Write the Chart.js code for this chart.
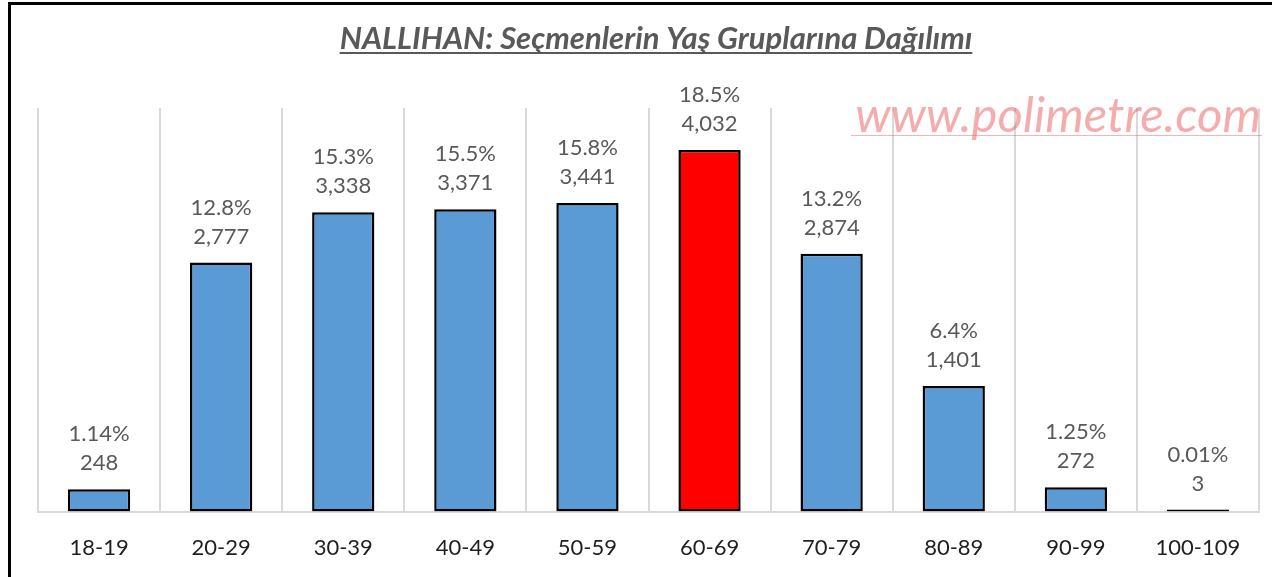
<!DOCTYPE html>
<html>
<head>
<meta charset="utf-8">
<script src="https://cdn.jsdelivr.net/npm/chart.js@4.4.0/dist/chart.umd.min.js"></script>
<style>
    html, body { margin: 0; padding: 0; background: #fff; overflow: hidden; }
    #wrap { position: relative; width: 1272px; height: 577px; overflow: hidden; }
    #frame {
        position: absolute; left: 8px; top: 2px; width: 1300px; height: 620px;
        border: 3px solid #000; box-sizing: border-box; pointer-events: none;
    }
</style>
</head>
<body>
<div id="wrap">
    <canvas id="chart" width="1272" height="604"></canvas>
    <div id="frame"></div>
</div>
<script>
//! Data
const ageGroups = ["18-19", "20-29", "30-39", "40-49", "50-59", "60-69", "70-79", "80-89", "90-99", "100-109"];
const voters = [248, 2777, 3338, 3371, 3441, 4032, 2874, 1401, 272, 3];
const shareLabels = ["1.14%", "12.8%", "15.3%", "15.5%", "15.8%", "18.5%", "13.2%", "6.4%", "1.25%", "0.01%"];
const highlightGroup = "60-69";

const chartTitle = "NALLIHAN: Seçmenlerin Yaş Gruplarına Dağılımı";
const watermark = "www.polimetre.com";

const barColors = ageGroups.map(g => g === highlightGroup ? "#FF0000" : "#5B9BD5");

//! Title + watermark + labels
const decorPlugin = {
    id: "decor",
    beforeDatasetsDraw(chart) {
        const ctx = chart.ctx;
        ctx.save();
        // watermark
        ctx.font = "italic 49px Lato";
        ctx.fillStyle = "rgba(235, 90, 90, 0.5)";
        ctx.textAlign = "right";
        ctx.textBaseline = "alphabetic";
        ctx.fillText(watermark, 1261, 132);
        ctx.strokeStyle = "rgba(235, 90, 90, 0.45)";
        ctx.lineWidth = 1;
        ctx.beginPath();
        ctx.moveTo(851, 135.5);
        ctx.lineTo(1262, 135.5);
        ctx.stroke();
        ctx.restore();
    },
    afterDatasetsDraw(chart) {
        const ctx = chart.ctx;
        ctx.save();
        // title
        ctx.font = "italic bold 31px Lato";
        ctx.fillStyle = "#595959";
        ctx.textAlign = "center";
        ctx.textBaseline = "alphabetic";
        const tx = 656;
        ctx.fillText(chartTitle, tx, 49);
        const w = ctx.measureText(chartTitle).width;
        ctx.fillRect(tx - w / 2, 52, w, 2);

        // data labels
        const meta = chart.getDatasetMeta(0);
        ctx.font = "22px Lato";
        ctx.fillStyle = "#595959";
        ctx.textBaseline = "middle";
        meta.data.forEach((bar, i) => {
            ctx.fillText(voters[i].toLocaleString("en-US"), bar.x, bar.y - 26);
            ctx.fillText(shareLabels[i], bar.x, bar.y - 55);
        });
        ctx.restore();
    }
};

new Chart(document.getElementById("chart"), {
    type: "bar",
    data: {
        labels: ageGroups,
        datasets: [{
            data: voters,
            backgroundColor: barColors,
            borderColor: "#000",
            borderWidth: 2.5,
            borderSkipped: false,
            minBarLength: 2,
            categoryPercentage: 1,
            barPercentage: 0.51
        }]
    },
    options: {
        responsive: false,
        animation: false,
        layout: { padding: { left: 38, right: 13, top: 108, bottom: 20 } },
        plugins: {
            legend: { display: false },
            tooltip: { enabled: false }
        },
        scales: {
            x: {
                grid: { display: true, offset: true, color: "#d9d9d9", lineWidth: 2, drawTicks: false },
                border: { display: true, color: "#d9d9d9", width: 2 },
                ticks: { color: "#1f1f1f", font: { family: "Lato", size: 22 }, padding: 23 }
            },
            y: {
                display: false,
                min: 0,
                max: 4500
            }
        }
    },
    plugins: [decorPlugin]
});
</script>
</body>
</html>
